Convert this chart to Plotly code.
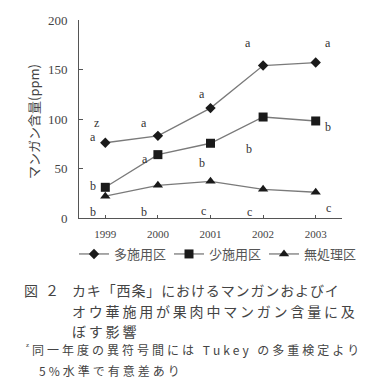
import plotly.graph_objects as go

years = ["1999", "2000", "2001", "2002", "2003"]
high = [76, 83, 111, 154, 157]
low = [31, 64, 75.5, 102, 98]
none_ = [22, 33, 37, 29, 26]
series_names = ["多施用区", "少施用区", "無処理区"]
y_ticks = [0, 50, 100, 150, 200]

# significance letters: (x index offset, y value, text)
letters = [
    (-0.17, 96, "z"), (-0.23, 82, "a"), (-0.23, 32.5, "b"), (-0.23, 6, "b"),
    (0.74, 96, "a"), (0.76, 60, "a"), (0.74, 6, "b"),
    (1.84, 125, "a"), (1.84, 56, "b"), (1.86, 7.5, "c"),
    (2.72, 177, "a"), (2.74, 70, "b"), (2.74, 6, "c"),
    (4.24, 177, "a"), (4.24, 92, "b"), (4.24, 10, "c"),
]

caption = [
    "図２",
    "カキ「西条」におけるマンガンおよびイ",
    "オウ華施用が果肉中マンガン含量に及",
    "ぼす影響",
]
footnote = ["同一年度の異符号間には Tukey の多重検定より", "5%水準で有意差あり"]

OFF = 8  # page body margin
W, H = 389 - OFF, 389 - OFF
# plot area edges in screen pixels
SL, SR, ST, SB = 79, 342, 20, 218
L, R, T, B = SL - OFF, SR - OFF, ST - OFF, SB - OFF


def px(x):
    return (x - SL) / (SR - SL)


def py(y):
    return (SB - y) / (SB - ST)


def spaced(s, sp="\u2009"):
    return sp.join(list(s))


xs = list(range(len(years)))
line_col = "#7a7a7a"
mk_col = "#1a1a1a"
fig = go.Figure()
for vals, name, sym, sz in [(high, series_names[0], "diamond", 8),
                            (low, series_names[1], "square", 9),
                            (none_, series_names[2], "triangle-up", 9)]:
    fig.add_trace(go.Scatter(
        x=xs, y=vals, name=name, mode="lines+markers",
        line=dict(color=line_col, width=1.3),
        marker=dict(symbol=sym, size=sz, color=mk_col),
    ))

anns = []
for x, y, t in letters:
    anns.append(dict(x=x, y=y, xref="x", yref="y", text=t, showarrow=False,
                     font=dict(family="Liberation Serif", size=12, color="#333")))

# y-axis title
anns.append(dict(x=px(33), y=py(122), xref="paper", yref="paper", text="マンガン含量(ppm)",
                 textangle=-90, showarrow=False, xanchor="center", yanchor="middle",
                 font=dict(family="Noto Sans CJK JP", size=13, color="#444")))

cap_font = dict(family="Noto Sans CJK JP", size=14, color="#444")
anns.append(dict(x=px(22), y=py(290), xref="paper", yref="paper", xanchor="left",
                 yanchor="middle", text=spaced(caption[0], "\u2002"), showarrow=False,
                 font=cap_font))
seps = ["\u200a", "\u2009", "\u2009"]
for i, line in enumerate(caption[1:]):
    anns.append(dict(x=px(70), y=py(290 + 20.5 * i), xref="paper", yref="paper",
                     xanchor="left", yanchor="middle", text=spaced(line, seps[i]),
                     showarrow=False, font=cap_font))

fn_font = dict(family="Noto Sans CJK JP", size=12, color="#444")
anns.append(dict(x=px(24), y=py(345), xref="paper", yref="paper", xanchor="left",
                 yanchor="middle", text="z", showarrow=False,
                 font=dict(family="Liberation Serif", size=7, color="#333")))
anns.append(dict(x=px(30), y=py(350), xref="paper", yref="paper", xanchor="left",
                 yanchor="middle", text=spaced(footnote[0], "\u2005"), showarrow=False,
                 font=fn_font))
anns.append(dict(x=px(37), y=py(370), xref="paper", yref="paper", xanchor="left",
                 yanchor="middle", text=spaced(footnote[1], "\u2005"), showarrow=False,
                 font=fn_font))

fig.update_layout(
    width=W, height=H,
    margin=dict(l=L, r=W - R, t=T, b=H - B, autoexpand=False),
    paper_bgcolor="white", plot_bgcolor="white",
    showlegend=True,
    legend=dict(orientation="h", x=px(74), xanchor="left", y=py(254), yanchor="middle",
                font=dict(family="Noto Sans CJK JP", size=13, color="#555"),
                itemwidth=30, tracegroupgap=0, bgcolor="rgba(0,0,0,0)",
                entrywidth=50, entrywidthmode="pixels"),
    xaxis=dict(range=[-0.5, 4.5], tickvals=xs, ticktext=years, showgrid=False, zeroline=False,
               showline=True, linecolor="#555", linewidth=1, ticks="inside", ticklen=3,
               tickcolor="#555",
               tickfont=dict(family="Liberation Serif", size=11, color="#444"),
               ticklabelstandoff=6),
    yaxis=dict(range=[0, 200], tickvals=y_ticks, showgrid=False, zeroline=False,
               showline=True, linecolor="#555", linewidth=1, ticks="inside", ticklen=4,
               tickcolor="#555",
               tickfont=dict(family="Liberation Serif", size=13, color="#444"),
               ticklabelstandoff=8),
    annotations=anns,
)
fig.write_html("out.html")
